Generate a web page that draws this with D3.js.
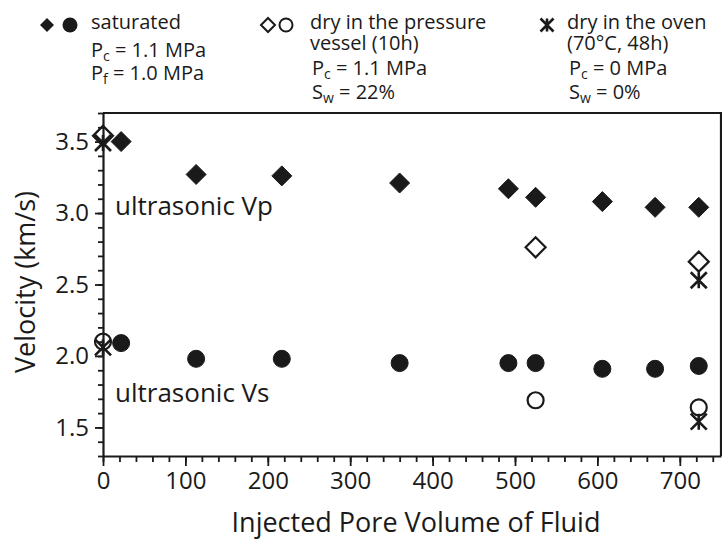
<!DOCTYPE html>
<html>
<head>
<meta charset="utf-8">
<script src="https://cdn.jsdelivr.net/npm/d3@7"></script>
<style>
  body { margin: 0; background: #fff; }
  svg text { font-family: "Open Sans", sans-serif; fill: #1a1a1a; }
</style>
</head>
<body>
<div id="chart"></div>
<script>
// saturated samples (filled markers)
var pvSat = [22, 113, 217, 360, 492, 525, 606, 670, 723];
var vpSat = [3.50, 3.27, 3.26, 3.21, 3.17, 3.11, 3.08, 3.04, 3.04];
var vsSat = [2.09, 1.98, 1.98, 1.95, 1.95, 1.95, 1.91, 1.91, 1.93];
// dry in the pressure vessel (open markers)
var pvVessel = [0, 525, 723];
var vpVessel = [3.54, 2.76, 2.66];
var vsVessel = [2.10, 1.69, 1.64];
// dry in the oven (star markers)
var pvOven = [0, 723];
var vpOven = [3.49, 2.53];
var vsOven = [2.06, 1.54];

var xMajor = [0, 100, 200, 300, 400, 500, 600, 700];
var yMajor = [1.5, 2.0, 2.5, 3.0, 3.5];

var w = 722, h = 539;
var svg = d3.select("#chart").append("svg")
    .attr("width", w)
    .attr("height", h);

var x = d3.scaleLinear().domain([0, 750]).range([103, 721]);
var y = d3.scaleLinear().domain([1.3, 3.7]).range([456, 113]);

var ink = "#1a1a1a";

// minor ticks
var xMinor = d3.range(0, 741, 20);
var yMinor = d3.range(13, 38).map(function(d) { return d / 10; });

svg.append("g")
    .attr("transform", "translate(0,456)")
    .call(d3.axisBottom(x).tickValues(xMinor).tickSize(6).tickFormat(""))
    .call(function(g) { g.select(".domain").remove(); });
svg.append("g")
    .attr("transform", "translate(103,0)")
    .call(d3.axisLeft(y).tickValues(yMinor).tickSize(5).tickFormat(""))
    .call(function(g) { g.select(".domain").remove(); });

// major axes
var xAxis = svg.append("g")
    .attr("transform", "translate(0,456)")
    .call(d3.axisBottom(x).tickValues(xMajor).tickSize(10).tickSizeOuter(0).tickPadding(6));
xAxis.selectAll("text").attr("font-size", 24);

var yAxis = svg.append("g")
    .attr("transform", "translate(103,0)")
    .call(d3.axisLeft(y).tickValues(yMajor).tickSize(8).tickSizeOuter(0).tickPadding(6)
        .tickFormat(d3.format(".1f")));
yAxis.selectAll("text").attr("font-size", 24);

svg.selectAll(".tick line").attr("stroke", ink).attr("stroke-width", 1.8);
svg.selectAll(".domain").attr("stroke", ink).attr("stroke-width", 2.2);

// frame top and right
svg.append("path")
    .attr("d", "M" + x(0) + "," + y(3.7) + "H" + x(750) + "V" + y(1.3))
    .attr("fill", "none")
    .attr("stroke", ink)
    .attr("stroke-width", 2.2);

// axis titles
svg.append("text")
    .attr("x", 416).attr("y", 532)
    .attr("text-anchor", "middle")
    .attr("font-size", 27)
    .text("Injected Pore Volume of Fluid");

svg.append("text")
    .attr("transform", "translate(35,282) rotate(-90)")
    .attr("text-anchor", "middle")
    .attr("font-size", 27)
    .text("Velocity (km/s)");

svg.append("text").attr("x", 115).attr("y", 215).attr("font-size", 26).text("ultrasonic Vp");
svg.append("text").attr("x", 115).attr("y", 402).attr("font-size", 26).text("ultrasonic Vs");

// marker helpers
function diamond(s) { return "M0," + (-s) + "L" + s + ",0L0," + s + "L" + (-s) + ",0Z"; }
function star(s) {
    return "M" + (-s) + "," + (-s) + "L" + s + "," + s +
        "M" + (-s) + "," + s + "L" + s + "," + (-s) +
        "M0," + (-s) + "V" + s;
}

function plotDiamonds(xs, ys, filled, s) {
    svg.append("g").selectAll("path")
        .data(xs.map(function(d, i) { return [d, ys[i]]; }))
        .enter().append("path")
        .attr("transform", function(d) { return "translate(" + x(d[0]) + "," + y(d[1]) + ")"; })
        .attr("d", diamond(s))
        .attr("fill", filled ? ink : "none")
        .attr("stroke", ink)
        .attr("stroke-width", filled ? 1 : 2.2);
}
function plotCircles(xs, ys, filled, r) {
    svg.append("g").selectAll("circle")
        .data(xs.map(function(d, i) { return [d, ys[i]]; }))
        .enter().append("circle")
        .attr("cx", function(d) { return x(d[0]); })
        .attr("cy", function(d) { return y(d[1]); })
        .attr("r", r)
        .attr("fill", filled ? ink : "none")
        .attr("stroke", ink)
        .attr("stroke-width", filled ? 1 : 2.2);
}
function plotStars(xs, ys, s) {
    svg.append("g").selectAll("path")
        .data(xs.map(function(d, i) { return [d, ys[i]]; }))
        .enter().append("path")
        .attr("transform", function(d) { return "translate(" + x(d[0]) + "," + y(d[1]) + ")"; })
        .attr("d", star(s))
        .attr("fill", "none")
        .attr("stroke", ink)
        .attr("stroke-width", 2.6);
}

plotStars(pvOven, vpOven, 8);
plotStars(pvOven, vsOven, 8);
plotDiamonds(pvSat, vpSat, true, 10);
plotCircles(pvSat, vsSat, true, 8.5);
plotDiamonds(pvVessel, vpVessel, false, 10);
plotCircles(pvVessel, vsVessel, false, 8);

// legend
var leg = svg.append("g");
leg.append("path").attr("transform", "translate(47,25)").attr("d", diamond(7)).attr("fill", ink);
leg.append("circle").attr("cx", 70).attr("cy", 25).attr("r", 7.5).attr("fill", ink);
leg.append("path").attr("transform", "translate(268,25)").attr("d", diamond(7))
    .attr("fill", "none").attr("stroke", ink).attr("stroke-width", 2);
leg.append("circle").attr("cx", 286).attr("cy", 25).attr("r", 6.5)
    .attr("fill", "none").attr("stroke", ink).attr("stroke-width", 2);
leg.append("path").attr("transform", "translate(547,25)").attr("d", star(6.5))
    .attr("fill", "none").attr("stroke", ink).attr("stroke-width", 2.6);

function legLine(px, py, main, sub, rest) {
    var t = leg.append("text").attr("x", px).attr("y", py).attr("font-size", 20);
    t.append("tspan").text(main);
    if (sub) {
        t.append("tspan").attr("font-size", 14).attr("dy", 4).text(sub);
        t.append("tspan").attr("dy", -4).text(rest);
    }
}
legLine(91, 29, "saturated");
legLine(91, 57, "P", "c", " = 1.1 MPa");
legLine(91, 80, "P", "f", " = 1.0 MPa");
legLine(310, 29, "dry in the pressure");
legLine(310, 50, "vessel (10h)");
legLine(312, 75, "P", "c", " = 1.1 MPa");
legLine(312, 99, "S", "w", " = 22%");
legLine(567, 29, "dry in the oven");
legLine(567, 50, "(70\u00B0C, 48h)");
legLine(569, 75, "P", "c", " = 0 MPa");
legLine(569, 99, "S", "w", " = 0%");
</script>
</body>
</html>
